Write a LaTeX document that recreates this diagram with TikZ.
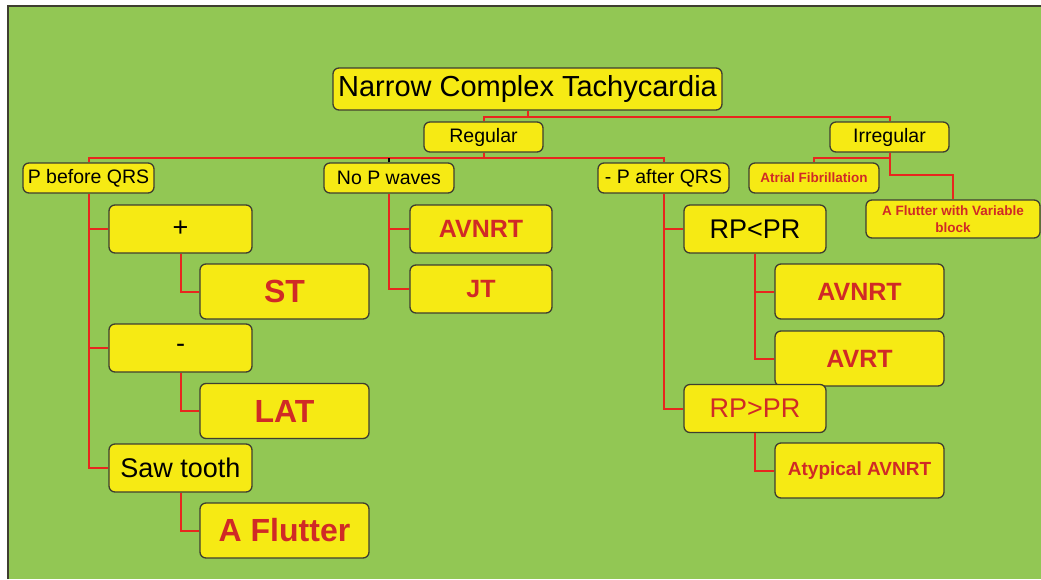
\documentclass[tikz,border=0pt]{standalone}
\usepackage{fontspec}
\setmainfont{Liberation Sans}
\definecolor{bggreen}{RGB}{146,199,84}
\definecolor{boxyellow}{RGB}{246,234,20}
\definecolor{linkred}{RGB}{232,38,30}
\definecolor{textred}{RGB}{208,42,38}
\definecolor{edgegray}{RGB}{62,62,48}
\begin{document}
\begin{tikzpicture}[x=1pt, y=-1pt,
    box/.style={draw=edgegray, line width=1.3pt, fill=boxyellow, rounded corners=6pt, inner sep=0pt, align=center},
    tag/.style={box, minimum height=30pt, font=\fontsize{19.5}{22}\selectfont},
    mid/.style={box, minimum width=143pt, minimum height=48pt, font=\fontsize{27}{30}\selectfont},
    wide/.style={box, minimum width=169pt, minimum height=55pt},
    redbig/.style={text=textred, font=\bfseries\fontsize{32}{36}\selectfont},
    redmid/.style={text=textred, font=\bfseries\fontsize{25}{28}\selectfont},
    link/.style={draw=linkred, line width=2pt}]
    \useasboundingbox (0,0) rectangle (1041,579);
    % --- 背景 ---
    \fill[bggreen] (8,6) rectangle (1041,579);
    \draw[edgegray, line width=2pt] (8,579) -- (8,6) -- (1041,6);

    % --- 第一层 ---
    \node[box, minimum width=389pt, minimum height=42pt, font=\fontsize{29}{32}\selectfont] (title) at (527.5,89) {Narrow Complex Tachycardia};
    \node[tag, minimum width=119pt] (regular) at (483.5,137) {Regular};
    \node[tag, minimum width=119pt] (irregular) at (889.5,137) {Irregular};

    % --- 第二层 ---
    \node[tag, minimum width=131pt] (pbefore) at (88.5,178) {P before QRS};
    \node[tag, minimum width=130pt] (nop) at (389,178) {No P waves};
    \node[tag, minimum width=131pt] (pafter) at (663.5,178) {- P after QRS};
    \node[tag, minimum width=130pt, text=textred, font=\bfseries\fontsize{13.5}{15}\selectfont] (afib) at (814,178) {Atrial Fibrillation};
    \node[box, minimum width=174pt, minimum height=38pt, text=textred, font=\bfseries\fontsize{13.5}{17}\selectfont] (aflutvar) at (953,219) {A Flutter with Variable\\block};

    % --- P before QRS ---
    \node[mid] (plus) at (180.5,229) {+};
    \node[wide, redbig] (st) at (284.5,291.5) {ST};
    \node[mid] (minus) at (180.5,348) {-};
    \node[wide, redbig] (lat) at (284.5,411) {LAT};
    \node[mid] (sawtooth) at (180.5,468) {Saw tooth};
    \node[wide, redbig] (aflutter) at (284.5,530.5) {A Flutter};

    % --- No P waves ---
    \node[mid, minimum width=142pt, redmid] (avnrtA) at (481,229) {AVNRT};
    \node[mid, minimum width=142pt, redmid] (jt) at (481,289) {JT};

    % --- P after QRS ---
    \node[mid, minimum width=142pt] (rpless) at (755,229) {RP<PR};
    \node[wide, redmid] (avnrtB) at (859.5,291.5) {AVNRT};
    \node[wide, redmid] (avrt) at (859.5,358.5) {AVRT};
    \node[mid, minimum width=142pt, text=textred] (rpmore) at (755,408.5) {RP>PR};
    \node[wide, text=textred, font=\bfseries\fontsize{19}{22}\selectfont] (atypical) at (859.5,470.5) {Atypical AVNRT};

    % --- 连线 ---
    \draw[link] (title.south) -- ++(0,6) coordinate (bus1);
    \draw[link] (regular.north) |- (bus1) -| (irregular.north);
    \draw[link] (regular.south) -- ++(0,5) coordinate (bus2);
    \draw[link] (pbefore.north) |- (bus2) -| (pafter.north);
    \draw[black, line width=2pt] (nop.north) -- (nop.north |- bus2);
    % Irregular 分支
    \draw[link] (irregular.south) -- ++(0,5) coordinate (bus3) -| (afib.north);
    \draw[link] (bus3) -- ++(0,17) -| (aflutvar.north);
    % 左侧
    \draw[link] (pbefore.south) |- (sawtooth.west);
    \draw[link] (pbefore.south |- plus.west) -- (plus.west);
    \draw[link] (pbefore.south |- minus.west) -- (minus.west);
    \draw[link] (plus.south) |- (st.west);
    \draw[link] (minus.south) |- (lat.west);
    \draw[link] (sawtooth.south) |- (aflutter.west);
    % 中间
    \draw[link] (nop.south) |- (jt.west);
    \draw[link] (nop.south |- avnrtA.west) -- (avnrtA.west);
    % 右侧
    \draw[link] (pafter.south) |- (rpmore.west);
    \draw[link] (pafter.south |- rpless.west) -- (rpless.west);
    \draw[link] (rpless.south) |- (avrt.west);
    \draw[link] (rpless.south |- avnrtB.west) -- (avnrtB.west);
    \draw[link] (rpmore.south) |- (atypical.west);
\end{tikzpicture}
\end{document}
